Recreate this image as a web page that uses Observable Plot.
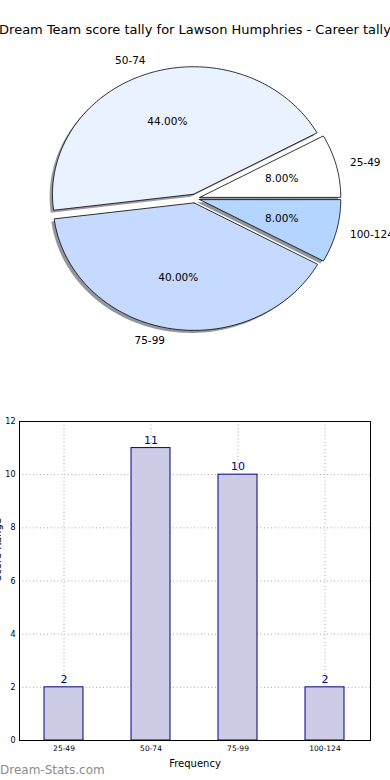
<!DOCTYPE html>
<html><head><meta charset="utf-8">
<script src="https://cdn.jsdelivr.net/npm/d3@7"></script>
<script src="https://cdn.jsdelivr.net/npm/@observablehq/plot@0.6"></script>
<style>
body{margin:0;background:#fff;font-family:"DejaVu Sans",sans-serif;}
#wrap{position:relative;width:390px;height:780px;overflow:hidden;background:#fff;}
#title{position:absolute;left:-100px;top:23px;width:590px;text-align:center;font-size:13px;line-height:13px;white-space:nowrap;color:#000;}
#pie{position:absolute;left:0;top:40px;}
#bar{position:absolute;left:0;top:400px;}
#footer{position:absolute;left:0;top:763px;font-size:12px;line-height:14px;color:#8c8c8c;}
</style></head><body>
<div id="wrap">
<div id="pie"></div>
<div id="bar"></div>
<div id="title">Dream Team score tally for Lawson Humphries - Career tally</div>
<div id="footer">Dream-Stats.com</div>
</div>
<script>
const categories = ["25-49", "50-74", "75-99", "100-124"];
const counts = [2, 11, 10, 2];
const pieColors = ["#ffffff", "#eaf1ff", "#c6d9ff", "#b4d5ff"];
const yTicks = [0, 2, 4, 6, 8, 10, 12];
const titleText = "Dream Team score tally for Lawson Humphries - Career tally";
const xLabel = "Frequency";
const yLabel = "Score Range";

const total = d3.sum(counts);
const explode = 0.035;
const cum = d3.cumsum([0, ...counts]);
const slices = categories.map((c, i) => {
  const t1 = cum[i] / total * 2 * Math.PI;
  const t2 = cum[i + 1] / total * 2 * Math.PI;
  const mid = (t1 + t2) / 2;
  const ox = explode * Math.cos(mid), oy = explode * Math.sin(mid);
  const n = Math.max(8, Math.ceil((t2 - t1) / (Math.PI / 180)));
  const pts = [{x: ox, y: oy}];
  for (let k = 0; k <= n; k++) {
    const t = t1 + (t2 - t1) * k / n;
    pts.push({x: ox + Math.cos(t), y: oy + Math.sin(t)});
  }
  pts.push({x: ox, y: oy});
  const col = d3.rgb(pieColors[i]);
  const shadowCol = d3.rgb(col.r * 0.3, col.g * 0.3, col.b * 0.3).formatHex();
  return {
    cat: c, count: counts[i], mid, ox, oy, pts,
    shadow: pts.map(p => ({x: p.x - 0.02, y: p.y - 0.02})),
    color: pieColors[i], shadowCol,
    lx: ox + 1.1 * Math.cos(mid), ly: oy + 1.1 * Math.sin(mid),
    px: ox + 0.6 * Math.cos(mid), py: oy + 0.6 * Math.sin(mid),
    pct: (counts[i] / total * 100).toFixed(2) + "%"
  };
});

const pieMarks = [];
slices.forEach(s => {
  pieMarks.push(Plot.line(s.shadow, {x: "x", y: "y", fill: s.shadowCol, fillOpacity: 0.55, stroke: "none"}));
  pieMarks.push(Plot.line(s.pts, {x: "x", y: "y", fill: s.color, stroke: "#000", strokeWidth: 0.8}));
});
pieMarks.push(Plot.text(slices.filter(s => Math.cos(s.mid) > 0), {x: "lx", y: "ly", text: "cat", textAnchor: "start", fontSize: 10.5, fill: "#000"}));
pieMarks.push(Plot.text(slices.filter(s => Math.cos(s.mid) <= 0), {x: "lx", y: "ly", text: "cat", textAnchor: "end", fontSize: 10.5, fill: "#000"}));
pieMarks.push(Plot.text(slices, {x: "px", y: "py", text: "pct", fontSize: 10.5, fill: "#000"}));

const pie = Plot.plot({
  width: 390, height: 320,
  margin: 0,
  style: {fontFamily: "DejaVu Sans, sans-serif", background: "transparent"},
  x: {domain: [-1, 1], range: [53.5, 335.5], axis: null},
  y: {domain: [-1, 1], range: [285.5, 30.5], axis: null},
  marks: pieMarks
});
document.getElementById("pie").appendChild(pie);

const data = categories.map((c, i) => ({cat: c, count: counts[i]}));
const bar = Plot.plot({
  width: 390, height: 375,
  marginTop: 21, marginBottom: 35, marginLeft: 19, marginRight: 20,
  style: {fontFamily: "DejaVu Sans, sans-serif", background: "transparent", overflow: "visible"},
  x: {type: "band", domain: categories, paddingInner: 0.55, paddingOuter: 0.275},
  y: {domain: [0, 12]},
  marks: [
    Plot.ruleY(yTicks.filter(t => t > 0 && t < 12), {stroke: "#a8a8a8", strokeDasharray: "1,2.5", strokeWidth: 1}),
    Plot.ruleX(categories, {x: d => d, stroke: "#a8a8a8", strokeDasharray: "1,2.5", strokeWidth: 1}),
    Plot.barY(data, {x: "cat", y: "count", fill: "#ccccE6", stroke: "#000080", strokeWidth: 1}),
    Plot.text(data, {x: "cat", y: "count", text: d => String(d.count), dy: -8, fill: "#000080", fontSize: 11}),
    Plot.frame({stroke: "#000", strokeWidth: 1}),
    Plot.axisY({ticks: yTicks, tickSize: 0, tickPadding: 4, fontSize: 8, label: null, tickFormat: d => String(d)}),
    Plot.axisX({tickSize: 0, tickPadding: 5, fontSize: 7.5, label: xLabel, labelAnchor: "center", labelArrow: "none", labelOffset: 26}),
    Plot.text([yLabel], {frameAnchor: "left", text: d => d, rotate: -90, dx: -22, fontSize: 10, fill: "#000"})
  ]
});
bar.querySelectorAll('[aria-label="x-axis label"] text, [aria-label="x-axis label"]').forEach(el => el.setAttribute("font-size", "10"));
document.getElementById("bar").appendChild(bar);
</script>
</body></html>
